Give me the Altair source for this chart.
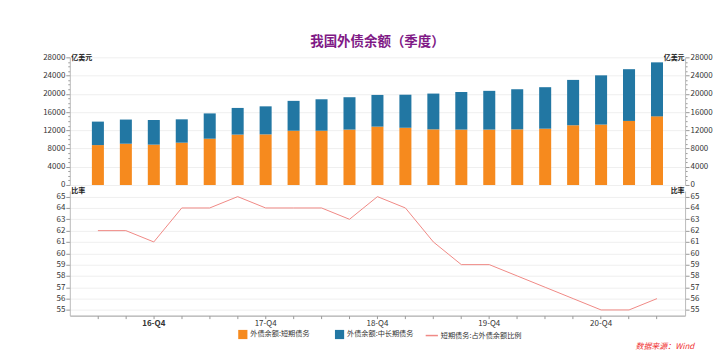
import altair as alt
import pandas as pd

quarters = ["16-Q2", "16-Q3", "16-Q4", "17-Q1", "17-Q2", "17-Q3", "17-Q4",
            "18-Q1", "18-Q2", "18-Q3", "18-Q4", "19-Q1", "19-Q2", "19-Q3",
            "19-Q4", "20-Q1", "20-Q2", "20-Q3", "20-Q4", "21-Q1", "21-Q2"]
short_term = [8750, 9050, 8850, 9280, 10150, 11050, 11100, 11900, 11900, 12150,
              12800, 12550, 12200, 12150, 12150, 12200, 12350, 13100, 13250, 14050, 15050]
mid_long = [5150, 5300, 5400, 5120, 5550, 5850, 6150, 6550, 6900, 7100,
            6950, 7250, 7850, 8250, 8500, 8800, 9100, 9950, 10800, 11350, 11850]
ratio = [62, 62, 61, 64, 64, 65, 64, 64, 64, 63, 65, 64, 61, 59, 59, 58, 57, 56, 55, 55, 56]

s_short = "外债余额:短期债务"
s_long = "外债余额:中长期债务"
s_ratio = "短期债务:占外债余额比例"

ORANGE = "#F68A1E"
BLUE = "#2277A3"
PINK = "#F08A86"
FONT = "Noto Sans CJK SC"

rows = []
for q, s, m in zip(quarters, short_term, mid_long):
    rows.append({"quarter": q, "type": s_short, "value": s, "ord": 0})
    rows.append({"quarter": q, "type": s_long, "value": m, "ord": 1})
bar_df = pd.DataFrame(rows)
tot_df = pd.DataFrame({"quarter": quarters, "total": [s + m for s, m in zip(short_term, mid_long)]})
ratio_df = pd.DataFrame({"quarter": quarters, "ratio": ratio, "series": s_ratio})

xscale = alt.Scale(type="band", paddingInner=0.57, paddingOuter=0.79)
W = 617

def yaxis(orient, major, minor_vals, title):
    left = orient == "left"
    return alt.Axis(
        orient=orient,
        values=minor_vals,
        labelExpr=f"datum.value % {major} == 0 ? datum.label : ''",
        tickSize={"condition": {"test": f"datum.value % {major} == 0", "value": 4}, "value": 2},
        grid=left,
        gridColor="#efefef",
        gridOpacity={"condition": {"test": f"datum.value % {major} == 0", "value": 1}, "value": 0},
        domainColor="#bbbbbb",
        tickColor="#999999",
        labelColor="#333333",
        labelFontSize=8,
        labelFont=FONT,
        labelPadding=1,
        format="d",
        title=title,
        titleAngle=0,
        titleAlign="left" if left else "right",
        titleBaseline="middle",
        titleX=1 if left else -1,
        titleY=0,
        titleFontSize=7,
        titleFont=FONT,
        titleFontWeight="bold",
        titleColor="#222222",
    )

top_vals = list(range(0, 28001, 1000))
bars = alt.Chart(bar_df).mark_bar().encode(
    x=alt.X("quarter:N", sort=quarters, scale=xscale, axis=None),
    y=alt.Y("value:Q", stack="zero",
            scale=alt.Scale(domain=[0, 28000], nice=False),
            axis=yaxis("left", 4000, top_vals, "亿美元")),
    color=alt.Color("type:N", scale=alt.Scale(domain=[s_short, s_long], range=[ORANGE, BLUE]),
                    legend=alt.Legend(title=None, symbolType="square", orient="none",
                                      direction="horizontal", legendX=168, legendY=272,
                                      columnPadding=24, symbolSize=85, labelOffset=2)),
    order=alt.Order("ord:Q"),
)
bars_r = alt.Chart(tot_df).mark_point(opacity=0).encode(
    x=alt.X("quarter:N", sort=quarters, scale=xscale, axis=None),
    y=alt.Y("total:Q", scale=alt.Scale(domain=[0, 28000], nice=False),
            axis=yaxis("right", 4000, top_vals, "亿美元")),
)
top = alt.layer(bars, bars_r).resolve_scale(y="independent").properties(
    width=W, height=128,
    title=alt.TitleParams("我国外债余额（季度）", fontSize=13.5, font=FONT, fontWeight="bold",
                          color="#801A86", anchor="middle", offset=5),
)

bot_vals = [55 + 0.5 * i for i in range(21)]
xaxis = alt.Axis(
    labelExpr="indexof(datum.label, 'Q4') >= 0 ? datum.label : ''",
    labelAngle=0, tickSize=3, domainColor="#999999", tickColor="#999999",
    labelColor="#333333", labelFontSize=8, labelFont=FONT, labelPadding=1,
    labelFontWeight={"condition": {"test": "datum.value == '16-Q4'", "value": "bold"}, "value": "normal"},
    title=None, grid=False,
)
line = alt.Chart(ratio_df).mark_line(strokeWidth=1).encode(
    x=alt.X("quarter:N", sort=quarters, scale=xscale, axis=xaxis),
    y=alt.Y("ratio:Q", scale=alt.Scale(domain=[54.5, 65.5], nice=False, zero=False),
            axis=yaxis("left", 1, bot_vals, "比率")),
    stroke=alt.Stroke("series:N", scale=alt.Scale(domain=[s_ratio], range=[PINK]),
                      legend=alt.Legend(title=None, symbolType="stroke", orient="none",
                                        direction="horizontal", legendX=356, legendY=272,
                                        symbolStrokeWidth=1.5, symbolSize=150, labelOffset=2)),
)
line_r = alt.Chart(ratio_df).mark_point(opacity=0).encode(
    x=alt.X("quarter:N", sort=quarters, scale=xscale, axis=xaxis),
    y=alt.Y("ratio:Q", scale=alt.Scale(domain=[54.5, 65.5], nice=False, zero=False),
            axis=yaxis("right", 1, bot_vals, "比率")),
)
bottom = alt.layer(line, line_r).resolve_scale(y="independent").properties(width=W, height=125)

chart = alt.vconcat(top, bottom, spacing=6, bounds="flush").properties(
    padding={"top": 34, "left": 42, "right": 2, "bottom": 2},
    title=alt.TitleParams("数据来源：Wind", orient="bottom", anchor="end", fontSize=8,
                          font=FONT, fontStyle="italic", fontWeight="normal", color="#F03030",
                          offset=3, dx=-18),
).configure_view(stroke=None).configure_legend(
    labelFontSize=7.2, labelFont=FONT, labelColor="#333333",
    symbolOpacity=1, labelLimit=200, padding=0,
)

chart.save("out.html", embed_options={"renderer": "svg", "actions": False})
